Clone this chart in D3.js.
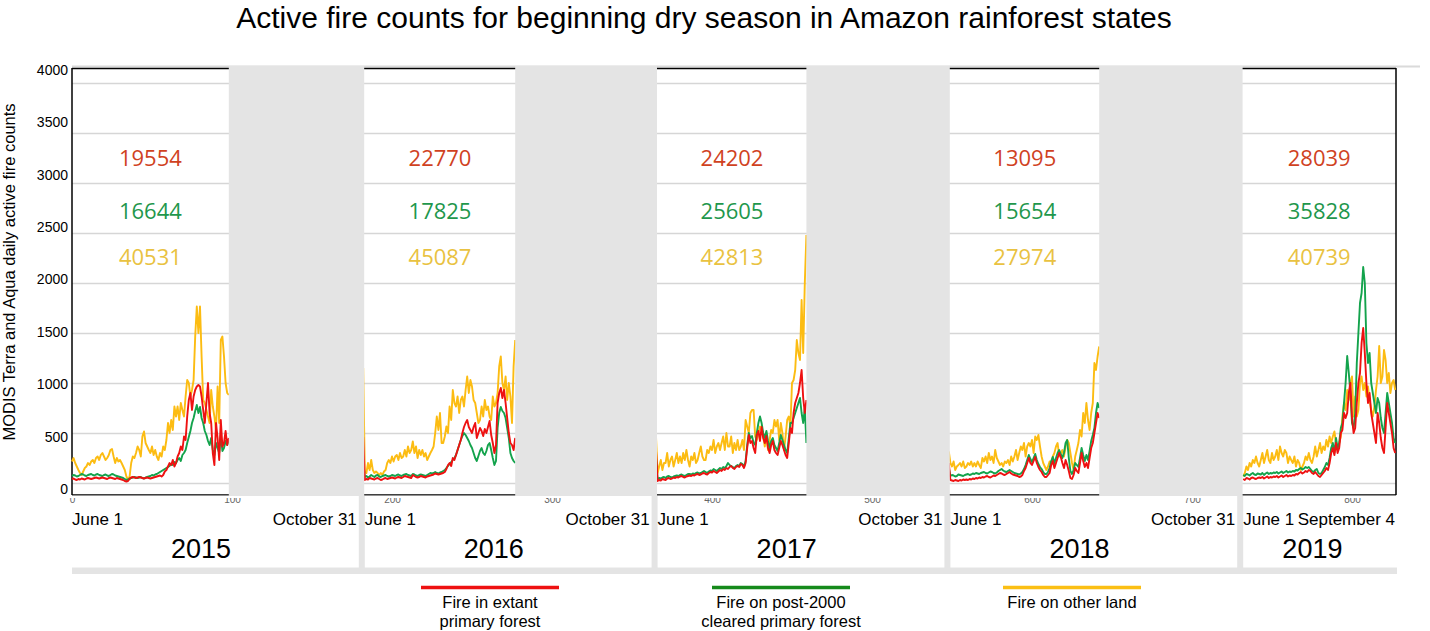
<!DOCTYPE html>
<html><head><meta charset="utf-8">
<script src="https://cdn.jsdelivr.net/npm/d3@7"></script>
<style>
html,body{margin:0;padding:0;background:#fff;}
svg{display:block;font-family:"Liberation Sans",Arial,sans-serif;}
</style></head><body>
<svg id="chart" width="1430" height="631"></svg>
<script>
// ---------- data ----------
const years = ["2015","2016","2017","2018","2019"];
const yearStartDay = [0,183,366,549,732];      // day index of June 1 on the concatenated axis
const firstDay = [0,-1,-1,-1,0];               // day index of the first stored value (-1 = last hidden day of previous block)
const startLabels = ["June 1","June 1","June 1","June 1","June 1"];
const endLabels = ["October 31","October 31","October 31","October 31","September 4"];
const totalsExtant = [19554,22770,24202,13095,28039];
const totalsCleared = [16644,17825,25605,15654,35828];
const totalsOther = [40531,45087,42813,27974,40739];
const yTicks = [0,500,1000,1500,2000,2500,3000,3500,4000];
const xTicks = [0,100,200,300,400,500,600,700,800];
const legendLabels = [["Fire in extant","primary forest"],["Fire on post-2000","cleared primary forest"],["Fire on other land"]];

const extant2015 = [40,45,35,30,40,35,45,40,35,45,50,45,40,45,50,55,50,45,50,55,50,45,40,50,55,50,45,40,50,45,40,35,30,20,15,20,40,55,60,55,50,55,60,55,50,45,50,55,50,45,50,55,60,65,70,75,65,80,115,130,165,200,180,230,165,200,265,300,365,330,465,430,665,830,900,730,865,930,965,980,965,865,730,600,800,1000,700,600,300,180,600,450,230,630,365,400,520,380,450];
const cleared2015 = [70,80,75,65,70,80,90,85,75,70,80,85,90,80,75,85,90,80,75,70,80,85,75,70,80,90,85,75,70,65,60,55,50,40,30,35,45,50,55,60,55,50,55,60,50,45,55,60,65,70,80,75,85,90,100,110,120,130,140,150,160,170,190,180,210,200,230,250,220,280,300,330,400,460,520,600,650,720,780,700,760,650,600,520,480,420,380,450,330,280,400,350,300,480,320,350,420,380,430];
const other2015 = [215,250,200,165,130,100,80,115,150,165,200,180,215,230,200,250,265,230,280,300,265,230,250,280,330,340,265,200,250,215,230,200,165,130,65,30,65,200,265,250,300,365,330,265,465,515,400,365,330,300,365,280,330,265,230,300,265,365,330,430,600,500,630,530,765,665,765,630,800,730,665,865,1030,1000,865,930,1030,1465,1765,1500,1765,1265,830,800,730,665,600,930,765,665,530,965,600,1430,1465,1265,1000,900,880];

const extant2016 = [460,30,40,35,50,45,40,35,45,50,40,30,35,45,50,40,45,50,55,50,45,55,60,55,50,60,70,65,60,55,50,80,70,60,55,60,70,65,60,55,65,70,75,80,85,95,90,85,90,95,100,110,140,180,200,170,250,230,280,330,380,430,500,560,600,630,560,530,500,560,600,450,500,550,520,470,540,500,560,620,480,400,300,380,800,900,950,850,930,800,650,500,400,380,330,450];
const cleared2016 = [200,60,70,55,65,80,70,60,75,80,65,60,70,75,80,70,65,70,80,75,70,80,85,75,70,80,85,90,80,75,70,90,85,75,70,80,85,80,75,70,80,90,100,95,100,110,100,95,105,110,120,130,150,170,190,210,230,250,280,330,380,430,470,500,480,450,420,380,350,300,250,220,270,320,350,300,280,320,380,400,330,250,180,220,550,700,760,720,700,650,550,450,300,250,220,200];
const other2016 = [1150,115,100,200,130,230,130,100,115,100,80,100,80,115,130,200,230,200,265,215,265,280,230,300,250,265,330,265,365,300,330,415,300,365,250,330,280,330,265,300,230,265,300,330,365,500,665,530,700,400,400,465,565,500,765,630,930,800,765,865,700,830,865,765,930,1065,900,1030,965,830,800,700,600,630,765,665,830,730,765,665,630,865,765,800,900,1165,1265,1000,930,1065,830,1000,865,600,1165,1430];

const extant2017 = [330,20,30,25,40,35,30,45,50,40,45,55,50,60,55,65,70,60,55,65,70,75,70,80,75,85,90,80,85,95,100,90,85,100,110,105,120,110,100,115,130,120,140,130,150,140,160,170,150,140,160,170,160,190,180,150,200,350,480,400,420,350,300,480,520,420,560,450,400,470,350,300,380,420,330,300,280,350,420,380,330,280,250,400,550,500,700,800,850,900,1000,1130,850,700,830];
const cleared2017 = [250,40,50,45,55,60,50,65,70,60,55,65,70,75,70,80,85,75,70,80,90,90,85,95,90,100,105,95,100,110,120,110,100,115,125,120,140,130,120,135,150,140,160,150,170,200,180,170,160,150,170,180,170,200,190,160,220,380,500,450,470,400,380,500,600,665,600,500,450,520,420,350,420,450,380,350,320,400,480,430,380,330,300,450,600,600,650,700,750,800,850,700,600,750,400];
const other2017 = [465,100,165,230,130,200,200,300,165,230,265,165,230,300,200,265,200,300,230,330,230,165,265,230,300,200,230,300,365,265,230,230,330,300,365,330,430,300,365,400,330,400,465,330,500,365,365,465,300,400,330,430,330,365,430,330,630,565,500,700,730,730,465,430,500,565,530,465,365,500,330,430,530,500,630,565,630,430,600,500,330,465,630,665,565,1000,1030,1130,1430,1300,1230,1830,1300,2000,2480];

const extant2018 = [200,30,25,20,30,25,20,30,25,35,30,35,30,40,35,45,40,50,45,55,50,60,55,65,70,60,55,65,75,70,80,90,100,95,85,80,90,100,110,95,85,80,75,70,60,65,80,120,150,200,250,200,180,220,260,200,160,130,110,80,60,60,80,100,180,220,150,200,250,300,260,200,150,230,180,120,50,40,80,150,120,100,200,300,220,160,200,150,250,350,400,500,600,700,650];
const cleared2018 = [150,70,80,75,65,70,85,80,75,70,80,85,90,80,85,95,90,100,95,90,100,105,110,100,95,105,115,110,100,95,105,120,130,140,125,115,110,120,130,120,110,100,95,90,85,95,110,140,180,230,280,240,210,250,290,230,190,160,140,110,90,90,110,150,220,260,200,250,300,330,290,250,300,400,430,250,120,90,130,200,180,160,250,350,280,220,280,230,320,420,480,550,700,800,750];
const other2018 = [315,200,165,215,130,165,180,200,165,215,150,165,200,180,215,165,200,165,215,180,150,250,215,265,200,300,230,265,200,330,250,215,180,200,165,215,200,230,180,265,215,265,330,230,300,365,330,400,265,365,400,365,430,300,465,430,480,365,265,200,165,130,165,215,200,265,300,365,400,265,300,330,265,365,430,400,300,200,130,265,330,400,530,465,700,600,800,630,530,700,800,1200,1130,1265,1365];

const extant2019 = [40,30,50,45,35,50,55,45,40,50,55,50,60,45,55,65,50,60,55,65,60,70,55,65,75,60,70,80,65,75,70,80,75,90,85,100,110,95,105,120,110,130,120,100,90,110,90,70,60,80,100,120,150,130,200,300,350,280,400,300,350,500,530,700,650,700,900,1000,650,500,550,800,1000,1100,1400,1550,1300,1000,800,900,700,600,500,400,700,600,450,350,300,550,800,700,600,500,350,300];
const cleared2019 = [80,70,90,85,75,90,100,85,80,95,90,85,100,80,95,105,90,100,95,105,100,110,95,105,115,100,110,120,105,115,110,120,115,130,125,140,150,135,145,160,150,160,140,120,110,130,140,100,90,100,130,160,200,180,250,350,400,300,450,350,400,550,600,800,1000,1270,1100,900,600,550,700,1200,1500,1800,1900,2160,2000,1400,1200,1300,1000,900,800,700,850,800,650,550,500,700,900,800,700,600,450,400];
const other2019 = [65,100,165,130,200,165,230,200,265,200,165,230,300,200,265,330,230,200,300,230,265,330,230,365,300,265,330,300,200,265,230,200,265,165,230,200,130,165,200,265,230,300,230,200,265,365,265,330,400,300,365,330,430,365,465,400,465,515,400,330,400,465,665,800,730,930,830,1000,1065,665,865,665,730,1000,1065,930,1000,865,965,830,730,665,765,930,1065,1370,1000,1065,1330,1230,1000,1100,900,1000,1030,930];

const extant = [extant2015, extant2016, extant2017, extant2018, extant2019];
const cleared = [cleared2015, cleared2016, cleared2017, cleared2018, cleared2019];
const other = [other2015, other2016, other2017, other2018, other2019];

// ---------- drawing ----------
const svg = d3.select("#chart");
const L = 72, R = 1396, TOP = 68, BOT = 495;
const x = d3.scaleLinear().domain([0, 827.5]).range([L, R]);
const y = d3.scaleLinear().domain([0, 4000]).range([483, 83]);
const yLab = d3.scaleLinear().domain([0, 4000]).range([489, 70]);

const lineCol = ["#ee1111", "#13a34c", "#fcbc12"];
const legendCol = ["#ee1111", "#168a1b", "#fbbf14"];
const numCol = ["#d0421f", "#1f974c", "#e9c241"];
const MASK = "#e4e4e4";

// title
svg.append("text").attr("x", 704).attr("y", 28).attr("text-anchor", "middle")
  .style("font-size", "30px").attr("fill", "#000")
  .text("Active fire counts for beginning dry season in Amazon rainforest states");

// faint top rule
svg.append("line").attr("x1", L).attr("x2", 1420).attr("y1", 66.5).attr("y2", 66.5)
  .attr("stroke", "#dadada").attr("stroke-width", 2);

// gridlines via axis
const grid = svg.append("g").attr("transform", `translate(${L},0)`)
  .call(d3.axisLeft(y).tickValues(yTicks).tickSize(-(R - L)).tickFormat(""));
grid.select(".domain").remove();
grid.selectAll(".tick line").attr("stroke", "#d6d6d6").attr("stroke-width", 1.6);

// frame
const frame = svg.append("g").attr("stroke", "#000").attr("stroke-width", 1.5);
frame.append("line").attr("x1", L).attr("x2", R).attr("y1", TOP + 0.5).attr("y2", TOP + 0.5);
frame.append("line").attr("x1", L).attr("x2", R).attr("y1", BOT).attr("y2", BOT);
frame.append("line").attr("x1", L).attr("x2", L).attr("y1", TOP).attr("y2", BOT);
frame.append("line").attr("x1", R).attr("x2", R).attr("y1", TOP).attr("y2", BOT);

// data lines
const gLines = svg.append("g");
[other, cleared, extant].forEach((ser, si) => {
  const col = [lineCol[2], lineCol[1], lineCol[0]][si];
  ser.forEach((vals, yi) => {
    const line = d3.line()
      .x((d, i) => x(yearStartDay[yi] + firstDay[yi] + i))
      .y(d => y(d));
    gLines.append("path").datum(vals).attr("d", line)
      .attr("fill", "none").attr("stroke", col).attr("stroke-width", 1.9)
      .attr("stroke-linejoin", "round");
  });
});

// masks over the hidden part of each season
years.forEach((yr, yi) => {
  if (yi === years.length - 1) return;
  const lastDay = yearStartDay[yi] + firstDay[yi] + extant[yi].length - 1;
  const x0 = x(lastDay);
  const x1 = x(yearStartDay[yi + 1]) - 0.6;
  svg.append("rect").attr("x", x0).attr("y", 66).attr("width", x1 - x0).attr("height", 496 - 66)
    .attr("fill", MASK);
});

// bottom band & panels
svg.append("rect").attr("x", L).attr("y", 495.5).attr("width", R + 1 - L).attr("height", 574 - 495.5).attr("fill", MASK);
const panels = years.map((yr, yi) => {
  const p0 = x(yearStartDay[yi]);
  const p1 = yi < years.length - 1 ? x(yearStartDay[yi + 1]) - 6 : R + 1;
  return [p0, p1];
});
panels.forEach(([p0, p1]) => {
  svg.append("rect").attr("x", p0).attr("y", 496).attr("width", p1 - p0).attr("height", 71.5).attr("fill", "#fff");
});

// x tick labels (partly clipped, as in the source)
svg.append("clipPath").attr("id", "tickclip").append("rect")
  .attr("x", 0).attr("y", 498).attr("width", 1430).attr("height", 20);
const xaWrap = svg.append("g").attr("clip-path", "url(#tickclip)");
const xa = xaWrap.append("g").attr("transform", `translate(0,${492})`)
  .call(d3.axisBottom(x).tickValues(xTicks).tickSize(0).tickPadding(4).tickFormat(d3.format("d")));
xa.select(".domain").remove();
xa.selectAll("text").style("font-size", "10px").style("font-family", "Liberation Sans, Arial, sans-serif").attr("fill", "#666");

// panel texts
panels.forEach(([p0, p1], yi) => {
  svg.append("text").attr("x", p0).attr("y", 525).style("font-size", "17px").attr("fill", "#000").text(startLabels[yi]);
  svg.append("text").attr("x", p1 - 2).attr("y", 525).attr("text-anchor", "end").style("font-size", "17px").attr("fill", "#000").text(endLabels[yi]);
  svg.append("text").attr("x", p0 + 0.45 * (p1 - p0)).attr("y", 558).attr("text-anchor", "middle")
    .style("font-size", "27px").attr("fill", "#000").text(years[yi]);
});

// season totals
const rowsY = [158, 210.5, 257];
[totalsExtant, totalsCleared, totalsOther].forEach((tot, ri) => {
  tot.forEach((v, yi) => {
    const cx = x(yearStartDay[yi] + (firstDay[yi] + extant[yi].length - 1) / 2);
    svg.append("text").attr("x", cx).attr("y", rowsY[ri] + 8).attr("text-anchor", "middle")
      .style("font-family", "'Open Sans', sans-serif").style("font-size", "22px")
      .attr("fill", numCol[ri]).text(v);
  });
});

// y axis labels
const ya = svg.append("g").attr("transform", `translate(${L},0)`)
  .call(d3.axisLeft(yLab).tickValues(yTicks).tickSize(0).tickPadding(4).tickFormat(d3.format("d")));
ya.select(".domain").remove();
ya.selectAll("text").style("font-size", "14px").style("font-family", "Liberation Sans, Arial, sans-serif").attr("fill", "#000");

// y axis title
svg.append("text").attr("transform", "translate(11,272) rotate(-90)").attr("text-anchor", "middle")
  .attr("dominant-baseline", "middle").style("font-size", "16.5px").attr("fill", "#000")
  .text("MODIS Terra and Aqua daily active fire counts");

// legend
const legCx = [490, 781, 1072];
legendLabels.forEach((lines, i) => {
  svg.append("line").attr("x1", legCx[i] - 69).attr("x2", legCx[i] + 69).attr("y1", 587.5).attr("y2", 587.5)
    .attr("stroke", legendCol[i]).attr("stroke-width", 3.5);
  lines.forEach((t, k) => {
    svg.append("text").attr("x", legCx[i]).attr("y", 608 + k * 18.5).attr("text-anchor", "middle")
      .style("font-size", "16.5px").attr("fill", "#000").text(t);
  });
});
</script>
</body></html>
